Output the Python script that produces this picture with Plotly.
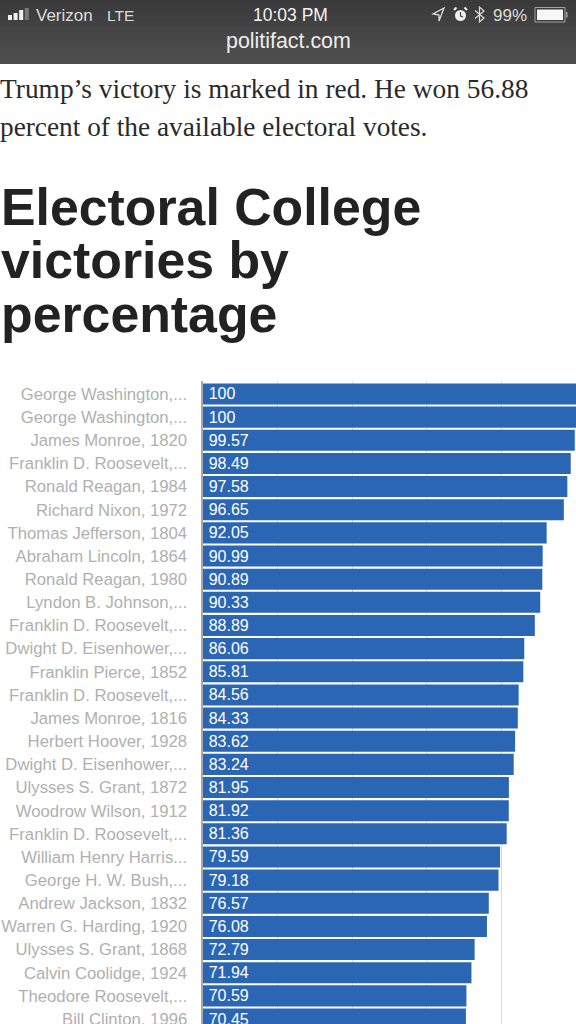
import plotly.graph_objects as go

names = ["George Washington,...", "George Washington,...", "James Monroe, 1820", "Franklin D. Roosevelt,...",
         "Ronald Reagan, 1984", "Richard Nixon, 1972", "Thomas Jefferson, 1804", "Abraham Lincoln, 1864",
         "Ronald Reagan, 1980", "Lyndon B. Johnson,...", "Franklin D. Roosevelt,...", "Dwight D. Eisenhower,...",
         "Franklin Pierce, 1852", "Franklin D. Roosevelt,...", "James Monroe, 1816", "Herbert Hoover, 1928",
         "Dwight D. Eisenhower,...", "Ulysses S. Grant, 1872", "Woodrow Wilson, 1912", "Franklin D. Roosevelt,...",
         "William Henry Harris...", "George H. W. Bush,...", "Andrew Jackson, 1832", "Warren G. Harding, 1920",
         "Ulysses S. Grant, 1868", "Calvin Coolidge, 1924", "Theodore Roosevelt,...", "Bill Clinton, 1996"]
values = [100, 100, 99.57, 98.49, 97.58, 96.65, 92.05, 90.99, 90.89, 90.33, 88.89, 86.06, 85.81, 84.56,
          84.33, 83.62, 83.24, 81.95, 81.92, 81.36, 79.59, 79.18, 76.57, 76.08, 72.79, 71.94, 70.59, 70.45]
labels = [f"\u2009{v:g}" for v in values]
xticks = [0, 20, 40, 60, 80, 100]

W, H = 576, 1024
positions = list(range(len(values)))

fig = go.Figure(go.Bar(
    x=values, y=positions, orientation="h", marker=dict(color="#2b66b5", line=dict(width=0)),
    text=labels, textposition="inside", insidetextanchor="start", textangle=0,
    insidetextfont=dict(family="Liberation Sans", size=16, color="#ffffff"),
    constraintext="none", cliponaxis=True, hoverinfo="skip",
))

shapes = []
def rect(x0, y0, x1, y1, color, line=None, lw=0):
    shapes.append(dict(type="rect", xref="paper", yref="paper", x0=x0/W, x1=x1/W, y0=1-y0/H, y1=1-y1/H,
                       fillcolor=color, line=dict(color=line or color, width=lw), layer="above"))

def path(points, color, fill=None, lw=1.2, close=False):
    d = "M " + " L ".join(f"{x/W:.5f},{1-y/H:.5f}" for x, y in points) + (" Z" if close else "")
    shapes.append(dict(type="path", xref="paper", yref="paper", path=d, fillcolor=fill or "rgba(0,0,0,0)",
                       line=dict(color=color, width=lw), layer="above"))

# browser chrome band, painted top down so that no seams show
band_colors = ["#3a3a3a", "#3c3c3c", "#3e3e3e", "#404040", "#424242", "#444444", "#464646", "#484848",
               "#4a4a4a", "#4b4b4b", "#4c4c4c", "#4d4d4d"]
for i, c in enumerate(band_colors):
    rect(0, i*64/12, W, 64, c)
# signal bars
for i, (t, c) in enumerate(zip([15, 13, 10, 8], ["#f0f0f0", "#f0f0f0", "#f0f0f0", "#787878"])):
    rect(8 + i*5.6, t, 12 + i*5.6, 20, c)
# battery
rect(535, 7.5, 565, 22, "rgba(0,0,0,0)", line="#a0a0a0", lw=1)
rect(537, 9.5, 563, 20, "#f7f7f7")
rect(566, 12, 567.5, 17.5, "#a0a0a0")
# location arrow
path([(444, 8), (433, 14), (439, 15), (439, 21)], "#dddddd", lw=1.3, close=True)
# alarm clock
shapes.append(dict(type="circle", xref="paper", yref="paper", x0=455/W, x1=466/W, y0=1-10/H, y1=1-21/H,
                   fillcolor="#f0f0f0", line=dict(color="#f0f0f0", width=0), layer="above"))
path([(454, 10), (456.5, 7.5)], "#f0f0f0", lw=2)
path([(467, 10), (464.5, 7.5)], "#f0f0f0", lw=2)
path([(460.5, 12), (460.5, 16), (463, 17)], "#444444", lw=1.2)
# bluetooth
path([(475, 10.5), (484, 18), (479.5, 22), (479.5, 7), (484, 11), (475, 18.5)], "#dddddd", lw=1.2)

def T(x, y, s, size, color, family="Liberation Sans", anchor="left", bold=False):
    return dict(xref="paper", yref="paper", x=x/W, y=1-y/H, text=f"<b>{s}</b>" if bold else s, showarrow=False,
                xanchor=anchor, yanchor="middle", font=dict(family=family, size=size, color=color), align="left")

annotations = [
    T(34, 15, "Verizon", 17, "#dddddd"),
    T(105, 15, "LTE", 15.5, "#dddddd"),
    T(290, 15, "10:03 PM", 17.5, "#f2f2f2", anchor="center"),
    T(288, 41, "politifact.com", 21.4, "#ededed", anchor="center"),
    T(529, 15, "99%", 17, "#dddddd", anchor="right"),
    T(-2, 88.5, "Trump’s victory is marked in red. He won 56.88", 27.4, "#2a2a2a", family="Liberation Serif"),
    T(-2, 126.5, "percent of the available electoral votes.", 27.3, "#2a2a2a", family="Liberation Serif"),
    T(-1, 207, "Electoral College", 51.8, "#222222", bold=True),
    T(-1, 260, "victories by", 51.8, "#222222", bold=True),
    T(-1, 314, "percentage", 51.8, "#222222", bold=True),
    # the last label sits at the page edge, where the axis would hide its own tick label
    dict(xref="paper", yref="y", x=189/W, y=positions[-1], text=names[-1], showarrow=False,
         xanchor="right", yanchor="middle", font=dict(family="Liberation Sans", size=16.7, color="#b0b0b0")),
]

plot_top = 381
pitch = 23.15
top = -0.56
bottom = top + (H - plot_top) / pitch

fig.update_layout(
    width=W, height=H, margin=dict(l=0, r=0, t=0, b=0), showlegend=False,
    paper_bgcolor="white", plot_bgcolor="white", bargap=0.09,
    shapes=shapes, annotations=annotations,
    xaxis=dict(domain=[202.5/W, 1], range=[0, 99.9], tickvals=xticks, showticklabels=False,
               showgrid=True, gridcolor="#d9d9d9", gridwidth=1, zeroline=False, ticks=""),
    yaxis=dict(domain=[0, 1 - plot_top/H], range=[bottom, top], tickmode="array",
               tickvals=positions[:-1], ticktext=names[:-1],
               showgrid=False, zeroline=False, showline=True, linecolor="#a8a8a8", linewidth=2, ticks="",
               ticklabelstandoff=10,
               tickfont=dict(family="Liberation Sans", size=16.7, color="#b0b0b0")),
)

fig.write_html("out.html", config={"displayModeBar": False},
               post_script="document.body.style.margin='0';document.body.style.overflow='hidden';")
